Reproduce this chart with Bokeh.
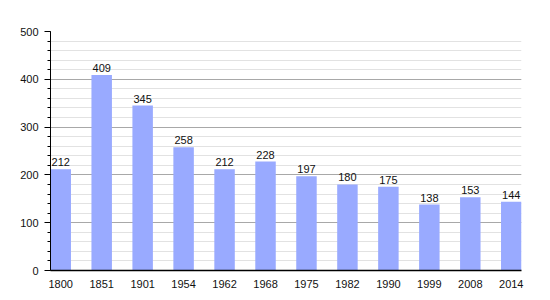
from bokeh.plotting import figure
from bokeh.models import ColumnDataSource, FixedTicker, Range1d, LabelSet
from bokeh.core.properties import value
from bokeh.embed import file_html
from bokeh.resources import INLINE

years = ["1800", "1851", "1901", "1954", "1962", "1968", "1975", "1982", "1990", "1999", "2008", "2014"]
population = [212, 409, 345, 258, 212, 228, 197, 180, 175, 138, 153, 144]
y_ticks = [0, 100, 200, 300, 400, 500]

idx = list(range(len(years)))
src = ColumnDataSource(dict(
    left=idx,
    right=[i + 0.5 for i in idx],
    mid=[i + 0.25 for i in idx],
    top=population,
    lab=[str(v) for v in population],
))

p = figure(width=550, height=300, output_backend="svg", toolbar_location=None,
           x_range=Range1d(0, len(years) - 0.5), y_range=Range1d(0, 500),
           min_border_left=50, min_border_right=29, min_border_top=31, min_border_bottom=30)
p.outline_line_color = None
p.background_fill_color = "white"

p.quad(left="left", right="right", bottom=0, top="top", source=src,
       fill_color="#99aaff", line_color=None)

labels = LabelSet(x="mid", y="top", text="lab", source=src, text_align="center",
                  text_baseline="bottom", y_offset=3, text_font_size="11px",
                  text_font=value("Liberation Sans"), text_color="#111111")
p.add_layout(labels)

# y axis
p.yaxis.ticker = FixedTicker(ticks=y_ticks, minor_ticks=list(range(0, 501, 20)))
p.yaxis.axis_line_color = "black"
p.yaxis.major_tick_line_color = "black"
p.yaxis.minor_tick_line_color = "black"
p.yaxis.major_tick_out = 6
p.yaxis.major_tick_in = 0
p.yaxis.minor_tick_out = 3
p.yaxis.minor_tick_in = 0
p.yaxis.major_label_text_font = "Liberation Sans"
p.yaxis.major_label_text_font_size = "11px"
p.yaxis.major_label_text_color = "#111111"
p.yaxis.major_label_standoff = 6

# x axis
p.xaxis.ticker = FixedTicker(ticks=[i + 0.25 for i in idx])
p.xaxis.major_label_overrides = {i + 0.25: y for i, y in zip(idx, years)}
p.xaxis.axis_line_color = "black"
p.xaxis.axis_line_width = 1.5
p.xaxis.major_tick_line_color = None
p.xaxis.minor_tick_line_color = None
p.xaxis.major_label_text_font = "Liberation Sans"
p.xaxis.major_label_text_font_size = "11px"
p.xaxis.major_label_text_color = "#111111"
p.xaxis.major_label_standoff = 3

# grids
p.xgrid.grid_line_color = None
p.ygrid.grid_line_color = "#a8a8a8"
p.ygrid.minor_grid_line_color = "#e2e2e2"
p.ygrid.level = "underlay"

open("out.html", "w").write(file_html(p, INLINE))
